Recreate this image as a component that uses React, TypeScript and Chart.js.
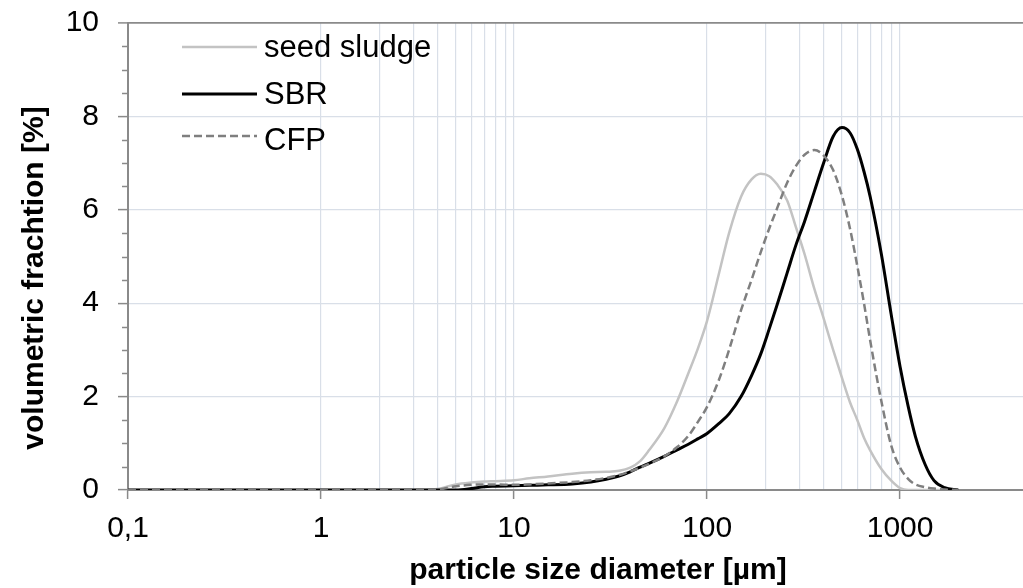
import React, { useEffect, useRef } from "react";
import { Chart, registerables } from "chart.js";

Chart.register(...registerables);

// particle size classes [µm]
const sizes = [
  0.1, 0.2, 0.5, 1, 2, 3, 4, 5, 6, 7, 8,
  10, 12, 15, 20, 25, 30, 35, 40, 45, 50,
  60, 70, 80, 90, 100,
  115, 130, 150, 170, 190, 210, 230, 260, 290, 320,
  360, 400, 450, 500, 550, 600, 650, 700, 800, 900,
  1000, 1100, 1200, 1350, 1500, 1700, 2000,
];

// volumetric fraction [%]
const seedSludge = [
  0, 0, 0, 0, 0, 0, 0.02, 0.12, 0.16, 0.18, 0.19,
  0.21, 0.25, 0.29, 0.35, 0.38, 0.39, 0.41, 0.48, 0.62, 0.85,
  1.32, 1.9, 2.5, 3.05, 3.62,
  4.62, 5.5, 6.28, 6.65, 6.77, 6.72, 6.55, 6.2, 5.6, 5.05,
  4.3, 3.7, 3.0, 2.4, 1.88, 1.5, 1.12, 0.85, 0.45, 0.2,
  0.04, 0, 0, 0, 0, 0, 0,
];

const sbr = [
  0, 0, 0, 0, 0, 0, 0, 0, 0.03, 0.07, 0.08,
  0.09, 0.1, 0.11, 0.13, 0.17, 0.23, 0.3, 0.39, 0.49, 0.57,
  0.72, 0.86, 0.98, 1.1, 1.21,
  1.42, 1.63, 2.0, 2.45, 2.92, 3.45, 3.95, 4.65, 5.27, 5.75,
  6.4, 6.98, 7.57, 7.76, 7.65, 7.3, 6.82, 6.28, 5.05, 3.75,
  2.64, 1.8, 1.15, 0.54, 0.2, 0.05, 0,
];

const cfp = [
  0, 0, 0, 0, 0, 0, 0.01, 0.08, 0.11, 0.12, 0.12,
  0.11, 0.12, 0.14, 0.17, 0.21, 0.26, 0.32, 0.4, 0.48, 0.56,
  0.72, 0.92, 1.16, 1.47, 1.78,
  2.35, 3.0, 3.85, 4.5, 5.1, 5.6, 6.02, 6.58, 6.95, 7.18,
  7.28, 7.17, 6.85, 6.3, 5.6, 4.8, 4.0, 3.2, 1.9, 0.95,
  0.48, 0.24, 0.12, 0.06, 0.03, 0.01, 0,
];

const seriesNames = ["seed sludge", "SBR", "CFP"];

// axis ticks
const xDecades = [0.1, 1, 10, 100, 1000];
const xDecadeLabels = ["0,1", "1", "10", "100", "1000"];
const xMinorGrid = [2, 3, 4, 5, 6, 7, 8, 9, 200, 300, 400, 500, 600, 700, 800, 900];
const yMajorTicks = [0, 2, 4, 6, 8, 10];

const xTitle = "particle size diameter [µm]";
const yTitle = "volumetric frachtion [%]";

const GRID = "#d9dfe8";
const AXIS = "#8a8a8a";
const FONT = "'Liberation Sans', Arial, sans-serif";

export default function App() {
  const ref = useRef<HTMLCanvasElement | null>(null);

  useEffect(() => {
    if (!ref.current) return;

    const styles = [
      { color: "#c3c3c3", width: 2.5, dash: [] as number[] },
      { color: "#000000", width: 3, dash: [] as number[] },
      { color: "#7f7f7f", width: 2.5, dash: [8, 4] },
    ];

    const overlay = {
      id: "overlay",
      afterDraw(chart: any) {
        const ctx = chart.ctx;
        const ca = chart.chartArea;
        const y = chart.scales.y;
        // minor y ticks
        ctx.save();
        ctx.strokeStyle = AXIS;
        ctx.lineWidth = 1.5;
        for (let v = 0.5; v < 10; v += 0.5) {
          if (yMajorTicks.includes(v)) continue;
          const py = Math.round(y.getPixelForValue(v)) + 0.5;
          ctx.beginPath();
          ctx.moveTo(ca.left - 6, py);
          ctx.lineTo(ca.left, py);
          ctx.stroke();
        }
        ctx.restore();

        // legend
        const rowsY = [47, 94, 136];
        const baseY = [57, 104, 150];
        ctx.save();
        seriesNames.forEach((name, i) => {
          const s = styles[i];
          ctx.strokeStyle = s.color;
          ctx.lineWidth = s.width;
          ctx.setLineDash(s.dash);
          ctx.beginPath();
          ctx.moveTo(182, rowsY[i]);
          ctx.lineTo(257, rowsY[i]);
          ctx.stroke();
          ctx.setLineDash([]);
          ctx.fillStyle = "#000";
          ctx.font = `31px ${FONT}`;
          ctx.textAlign = "left";
          ctx.textBaseline = "alphabetic";
          ctx.fillText(name, 264, baseY[i]);
        });
        ctx.restore();

        // axis titles
        ctx.save();
        ctx.fillStyle = "#000";
        ctx.font = `bold 30px ${FONT}`;
        ctx.textAlign = "center";
        ctx.textBaseline = "alphabetic";
        ctx.fillText(xTitle, 598, 579);
        ctx.translate(43, 278);
        ctx.rotate(-Math.PI / 2);
        ctx.fillText(yTitle, 0, 0);
        ctx.restore();
      },
    };

    const chart = new Chart(ref.current, {
      type: "line",
      data: {
        datasets: [seedSludge, sbr, cfp].map((vals, i) => ({
          label: seriesNames[i],
          data: sizes.map((s, k) => ({ x: s, y: vals[k] })),
          borderColor: styles[i].color,
          borderWidth: styles[i].width,
          borderDash: styles[i].dash,
          pointRadius: 0,
          fill: false,
          cubicInterpolationMode: "monotone" as const,
          order: 2 - i,
        })),
      },
      options: {
        responsive: false,
        animation: false,
        devicePixelRatio: 1,
        layout: { padding: { top: 23, right: 0, left: 0, bottom: 0 } },
        plugins: { legend: { display: false }, tooltip: { enabled: false } },
        scales: {
          x: {
            type: "logarithmic",
            min: 0.1,
            max: 5000,
            afterBuildTicks: (scale: any) => {
              const vals = [...xDecades, ...xMinorGrid].sort((a, b) => a - b);
              scale.ticks = vals.map((v) => ({ value: v }));
            },
            afterFit: (scale: any) => {
              scale.height = 98;
              scale.paddingLeft = 0;
              scale.paddingRight = 0;
            },
            ticks: {
              autoSkip: false,
              maxRotation: 0,
              padding: 12,
              color: "#000",
              font: { family: FONT, size: 30 },
              callback: (v: any) => {
                const i = xDecades.indexOf(Number(v));
                return i >= 0 ? xDecadeLabels[i] : "";
              },
            },
            grid: {
              color: (c: any) => (c.tick && c.tick.value === 0.1 ? "rgba(0,0,0,0)" : GRID),
              lineWidth: 1.2,
              tickLength: 9,
              tickColor: (c: any) =>
                c.tick && xDecades.includes(c.tick.value) ? AXIS : "rgba(0,0,0,0)",
              tickWidth: 1.5,
            },
            border: { color: AXIS, width: 2 },
          },
          y: {
            min: 0,
            max: 10,
            afterBuildTicks: (scale: any) => {
              scale.ticks = yMajorTicks.map((v) => ({ value: v }));
            },
            afterFit: (scale: any) => {
              scale.width = 128;
              scale.paddingTop = 0;
              scale.paddingBottom = 0;
            },
            ticks: {
              padding: 19,
              color: "#000",
              font: { family: FONT, size: 30 },
            },
            grid: {
              color: (c: any) =>
                c.tick && c.tick.value === 10 ? AXIS : c.tick && c.tick.value === 0 ? "rgba(0,0,0,0)" : GRID,
              lineWidth: (c: any) => (c.tick && c.tick.value === 10 ? 1.8 : 1.2),
              tickLength: 10,
              tickColor: AXIS,
              tickWidth: 1.5,
            },
            border: { color: AXIS, width: 2 },
          },
        },
      },
      plugins: [overlay],
    });

    return () => chart.destroy();
  }, []);

  return (
    <div
      style={{
        position: "absolute",
        left: 0,
        top: 0,
        width: 1023,
        height: 588,
        overflow: "hidden",
        background: "#fff",
      }}
    >
      <canvas ref={ref} width={1035} height={588} style={{ width: 1035, height: 588, display: "block" }} />
    </div>
  );
}
